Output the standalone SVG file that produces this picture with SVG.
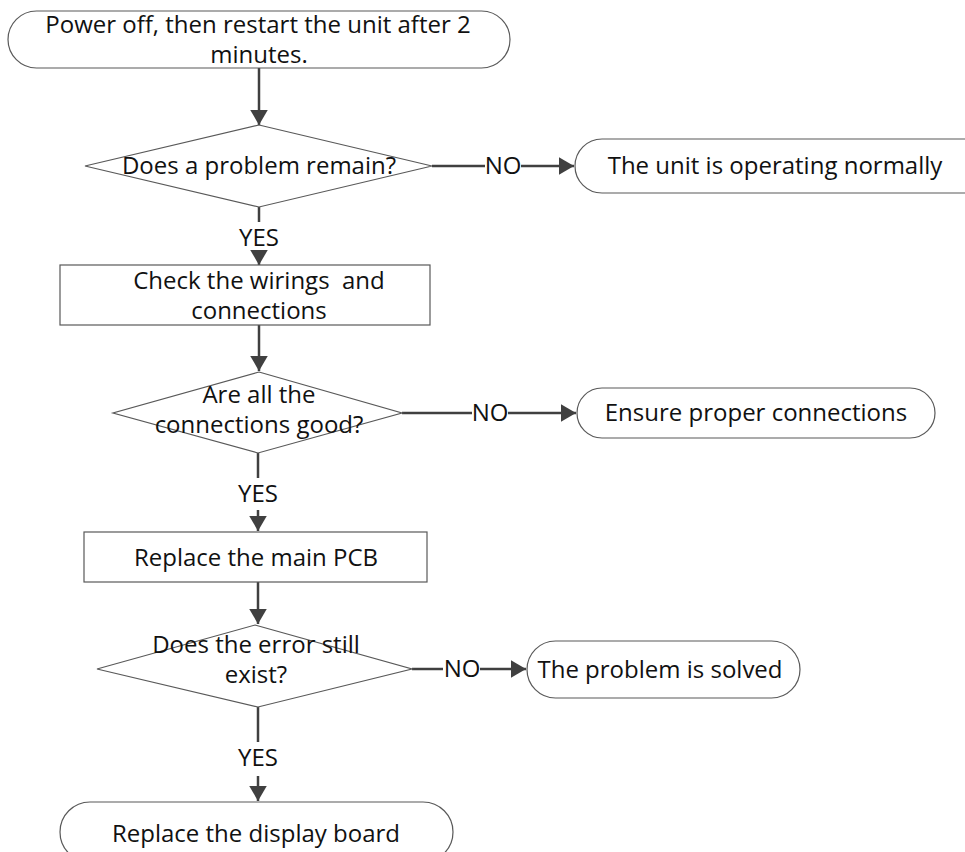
<svg xmlns="http://www.w3.org/2000/svg" width="965" height="852" viewBox="0 0 965 852">
<style>
.s{fill:#fff;stroke:#595959;stroke-width:1.2}
.t{font-family:"Open Sans","Noto Sans",sans-serif;font-size:24px;fill:#111;text-anchor:middle}
.c{fill:none;stroke:#404040;stroke-width:2.5}
</style>
<defs>
<marker id="ah" markerWidth="6" markerHeight="7" refX="6" refY="3.5" orient="auto" markerUnits="strokeWidth">
<path d="M0,0 L6,3.5 L0,7 Z" fill="#404040"/>
</marker>
</defs>
<rect width="965" height="852" fill="#fff"/>
<g id="connectors">
<line class="c" x1="259" y1="68" x2="259" y2="125" marker-end="url(#ah)"/>
<line class="c" x1="432" y1="166" x2="485" y2="166"/>
<line class="c" x1="521" y1="166" x2="574" y2="166" marker-end="url(#ah)"/>
<text class="t" x="503" y="174">NO</text>
<line class="c" x1="259" y1="207" x2="259" y2="222"/>
<text class="t" x="259" y="246">YES</text>
<line class="c" x1="259" y1="254" x2="259" y2="265" marker-end="url(#ah)"/>
<line class="c" x1="259" y1="325" x2="259" y2="371" marker-end="url(#ah)"/>
<line class="c" x1="402" y1="413" x2="472" y2="413"/>
<line class="c" x1="508" y1="413" x2="576" y2="413" marker-end="url(#ah)"/>
<text class="t" x="490" y="421">NO</text>
<line class="c" x1="258" y1="453" x2="258" y2="478"/>
<text class="t" x="258" y="502">YES</text>
<line class="c" x1="258" y1="510" x2="258" y2="531" marker-end="url(#ah)"/>
<line class="c" x1="258" y1="582" x2="258" y2="624" marker-end="url(#ah)"/>
<line class="c" x1="412" y1="669" x2="443" y2="669"/>
<line class="c" x1="480" y1="669" x2="526" y2="669" marker-end="url(#ah)"/>
<text class="t" x="462" y="677">NO</text>
<line class="c" x1="258" y1="707" x2="258" y2="742"/>
<text class="t" x="258" y="766">YES</text>
<line class="c" x1="258" y1="776" x2="258" y2="801" marker-end="url(#ah)"/>
</g>
<g id="start">
<rect class="s" x="8" y="11" width="502" height="57" rx="28.5"/>
<text class="t" x="258" y="33">Power off, then restart the unit after 2</text>
<text class="t" x="259" y="63">minutes.</text>
</g>
<g id="d1">
<polygon class="s" points="259,125 432,166 259,207 85,166"/>
<text class="t" x="259" y="174">Does a problem remain?</text>
</g>
<g id="normal">
<rect class="s" x="575" y="139" width="420" height="54" rx="27"/>
<text class="t" x="775" y="174">The unit is operating normally</text>
</g>
<g id="check">
<rect class="s" x="60" y="265" width="370" height="60"/>
<text class="t" x="259" y="289" xml:space="preserve">Check the wirings  and</text>
<text class="t" x="259" y="319">connections</text>
</g>
<g id="d2">
<polygon class="s" points="259,372 402,413 258,453 113,413"/>
<text class="t" x="259" y="403">Are all the</text>
<text class="t" x="259" y="433">connections good?</text>
</g>
<g id="ensure">
<rect class="s" x="577" y="388" width="358" height="50" rx="25"/>
<text class="t" x="756" y="421">Ensure proper connections</text>
</g>
<g id="pcb">
<rect class="s" x="84" y="532" width="343" height="50"/>
<text class="t" x="256" y="566">Replace the main PCB</text>
</g>
<g id="d3">
<polygon class="s" points="255,625 412,669 258,707 97,669"/>
<text class="t" x="256" y="653">Does the error still</text>
<text class="t" x="256" y="683">exist?</text>
</g>
<g id="solved">
<rect class="s" x="527" y="641" width="273" height="57" rx="28.5"/>
<text class="t" x="660" y="678">The problem is solved</text>
</g>
<g id="display">
<rect class="s" x="60" y="802" width="393" height="60" rx="30"/>
<text class="t" x="256" y="842">Replace the display board</text>
</g>
</svg>
